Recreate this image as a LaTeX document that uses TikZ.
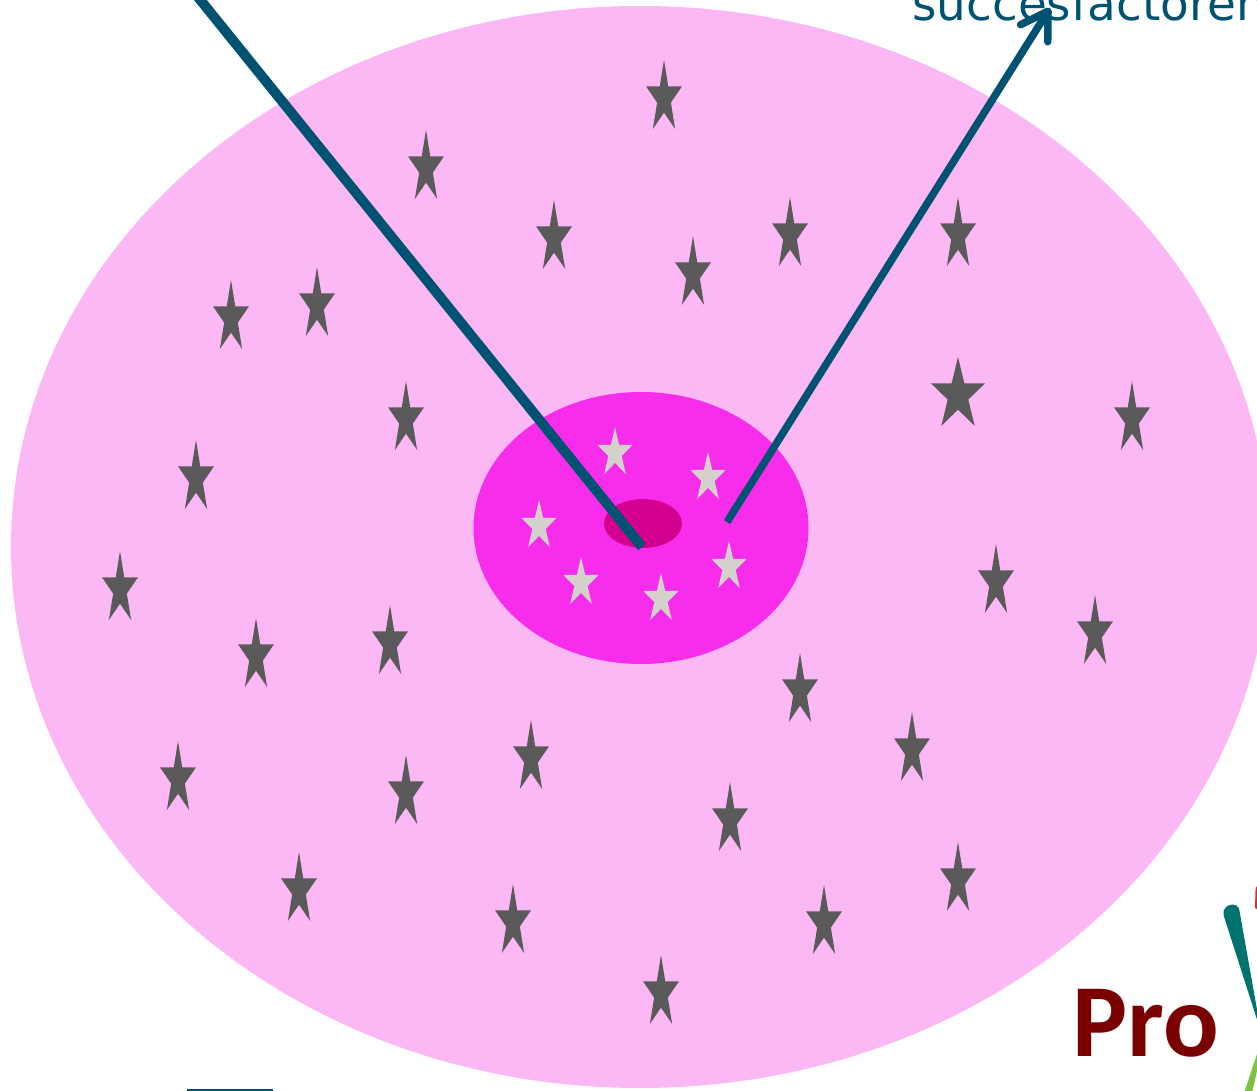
\documentclass[tikz,border=0pt]{standalone}
\usepackage{fontspec}
\newfontfamily\dejavu{DejaVu Sans}
\newfontfamily\carlito{Carlito}
\usetikzlibrary{arrows.meta}
\definecolor{bgpink}{RGB}{252,184,244}
\definecolor{midmag}{RGB}{247,45,235}
\definecolor{coremag}{RGB}{212,0,143}
\definecolor{stardark}{RGB}{90,90,90}
\definecolor{starlight}{RGB}{212,208,203}
\definecolor{lineblue}{RGB}{0,82,115}
\definecolor{prored}{RGB}{122,0,0}
\definecolor{logoteal}{RGB}{0,115,110}
\definecolor{logored}{RGB}{215,45,50}
\definecolor{logogreen}{RGB}{125,194,66}
\begin{document}
\begin{tikzpicture}[x=0.02cm,y=-0.02cm,
  dstar/.pic={\fill[stardark] (0,-1) -- (0.2245,-0.309) -- (0.951,-0.309) -- (0.363,0.118) -- (0.588,0.809) -- (0,0.382) -- (-0.588,0.809) -- (-0.363,0.118) -- (-0.951,-0.309) -- (-0.2245,-0.309) -- cycle;},
  lstar/.pic={\fill[starlight] (0,-1) -- (0.2245,-0.309) -- (0.951,-0.309) -- (0.363,0.118) -- (0.588,0.809) -- (0,0.382) -- (-0.588,0.809) -- (-0.363,0.118) -- (-0.951,-0.309) -- (-0.2245,-0.309) -- cycle;},
  connL/.style={draw=lineblue, line width=0.2cm, line cap=butt},
  connR/.style={draw=lineblue, line width=0.15cm, line cap=butt,
    -{Straight Barb[round, length=0.52cm, width=0.64cm]}},
  lbl/.style={anchor=base west, inner sep=0pt}]
\useasboundingbox (0,0) rectangle (1257,1091);
\clip (0,0) rectangle (1257,1091);
% outer ellipse
\fill[bgpink] (640,547) ellipse [x radius=629, y radius=541];
% dark stars
\foreach \x/\t in {664/60, 426/130, 554/200, 693/236, 790/197, 958/197, 231/280, 317/267,
  1132/381, 406/381, 196/440, 120/551, 256/618, 390/605, 996/544, 1095/595, 800/653,
  912/712, 531/720, 178/741, 406/755, 730/782, 958/842, 299/852, 513/884, 824/885, 661/955}
  \pic[xscale=18.9, yscale=38.1] at (\x,\t+38.1) {dstar};
\pic[xscale=28.4, yscale=38.1] at (958,357+38.1) {dstar};
% inner ellipse
\fill[midmag] (641,528) ellipse [x radius=167.5, y radius=136];
\fill[coremag] (643,523.5) ellipse [x radius=39, y radius=24.5];
% light stars
\foreach \x/\t in {615/427, 708/452, 539/500, 729/541, 581/557, 661/573}
  \pic[xscale=18.4, yscale=26] at (\x,\t+26) {lstar};
% connectors
\coordinate (core) at (642,547);
\coordinate (farleft) at (160,-50);
\coordinate (rstart) at (727,522);
\coordinate (tip) at (1050,8);
\draw[connL] (farleft) -- (core);
\draw[connR] (rstart) -- (tip);
% texts
\node[lbl, text=lineblue, font=\dejavu\fontsize{26.7}{32}\selectfont] (succes) at (912,21) {succesfactoren};
\node[lbl, text=prored, font=\carlito\bfseries\fontsize{59}{68}\selectfont] (pro) at (1072,1056) {Pro};
% logo fragments
\fill[logoteal] (1261,1032) -- (1223.5,915) .. controls (1221.5,903) and (1239.5,901) .. (1239.5,911) -- cycle;
\fill[logored] (1255,908) -- (1255.5,890) .. controls (1256,886) and (1258,885) .. (1259,885) -- (1259,910) -- cycle;
\fill[logogreen] (1259,1048) -- (1259,1062) -- (1252,1093) -- (1244,1093) -- cycle;
% bottom-left bar
\fill[lineblue] (187,1088.5) rectangle (273,1093);
\end{tikzpicture}
\end{document}
